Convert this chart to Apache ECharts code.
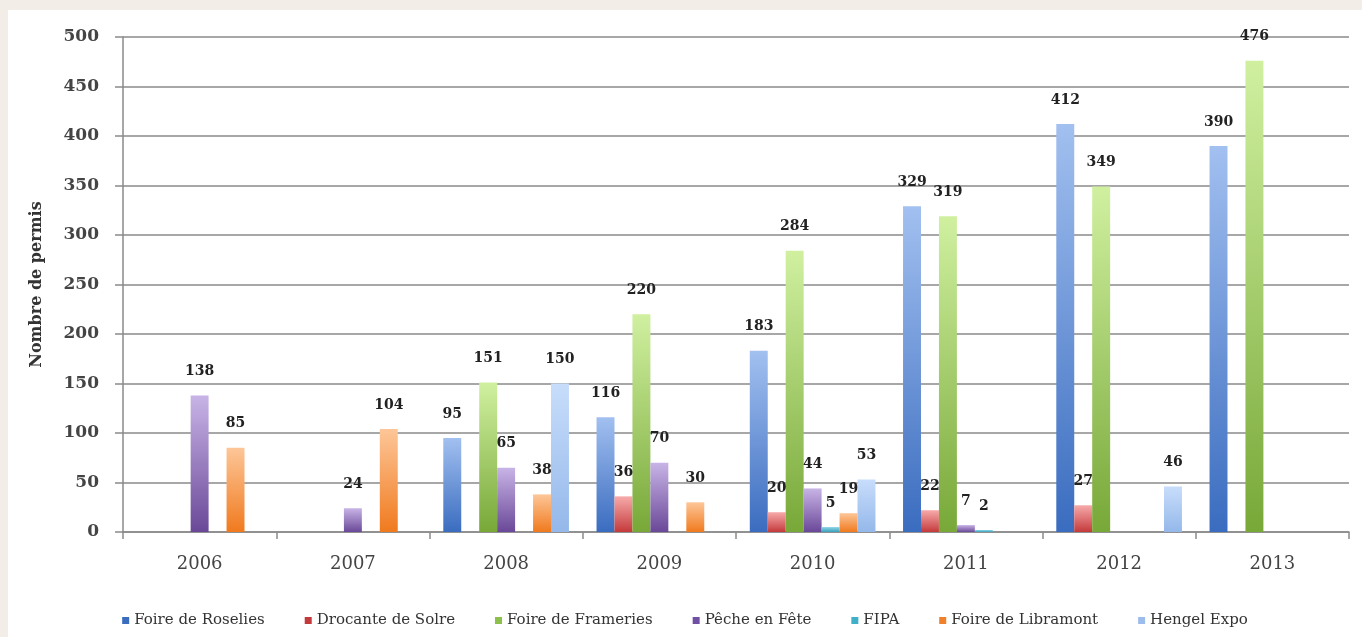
<!DOCTYPE html>
<html>
<head>
<meta charset="utf-8">
<script src="https://cdn.jsdelivr.net/npm/echarts@6/dist/echarts.min.js"></script>
<style>
html,body{margin:0;padding:0;width:1362px;height:637px;background:#f2eee7;overflow:hidden;}
#card{position:absolute;left:8px;top:10px;width:1354px;height:627px;background:#ffffff;}
#chart{width:1354px;height:627px;}
</style>
</head>
<body>
<div id="card"><div id="chart"></div></div>
<script>
const categories = ['2006','2007','2008','2009','2010','2011','2012','2013'];
const seriesNames = ['Foire de Roselies','Drocante de Solre','Foire de Frameries','Pêche en Fête','FIPA','Foire de Libramont','Hengel Expo'];
const roselies   = [null, null, 95, 116, 183, 329, 412, 390];
const drocante   = [null, null, null, 36, 20, 22, 27, null];
const frameries  = [null, null, 151, 220, 284, 319, 349, 476];
const peche      = [138, 24, 65, 70, 44, 7, null, null];
const fipa       = [null, null, null, null, 5, 2, null, null];
const libramont  = [85, 104, 38, 30, 19, null, null, null];
const hengel     = [null, null, 150, null, 53, null, 46, null];
const yTicks = [0, 50, 100, 150, 200, 250, 300, 350, 400, 450, 500];

const seriesData = [roselies, drocante, frameries, peche, fipa, libramont, hengel];
const gradients = [
  ['#a2c0f0', '#3a6cbf'],
  ['#f7aaaa', '#c43a3c'],
  ['#d0f0a0', '#78a838'],
  ['#c8b4e6', '#6a4898'],
  ['#8fd6e8', '#3aa0ba'],
  ['#fdc698', '#f07a1e'],
  ['#c8ddfb', '#94b8ea']
];
const legendColors = ['#3a6cbf','#c43a3c','#8cc04a','#7050a4','#3fb0c8','#f0802a','#9cbcec'];

const chart = echarts.init(document.getElementById('chart'), null, {renderer: 'canvas'});
const serif = '"DejaVu Serif", "Liberation Serif", serif';

chart.setOption({
  animation: false,
  backgroundColor: '#ffffff',
  grid: {left: 115, right: 13, top: 27, bottom: 105, containLabel: false},
  legend: {
    bottom: 4,
    left: 'center',
    itemWidth: 7,
    itemHeight: 7,
    itemGap: 40,
    icon: 'rect',
    textStyle: {fontFamily: serif, fontSize: 15, color: '#333'},
    data: seriesNames.map((n, i) => ({name: n, itemStyle: {color: legendColors[i]}}))
  },
  xAxis: {
    type: 'category',
    data: categories,
    axisLine: {lineStyle: {color: '#8a8a8a', width: 1.5}},
    axisTick: {show: true, length: 7, lineStyle: {color: '#8a8a8a', width: 1.5}},
    axisLabel: {fontFamily: serif, fontSize: 18, color: '#444', margin: 23}
  },
  yAxis: {
    type: 'value',
    min: 0, max: 500, interval: 50,
    name: 'Nombre de permis',
    nameLocation: 'middle',
    nameGap: 78,
    nameTextStyle: {fontFamily: serif, fontSize: 16, fontWeight: 'bold', color: '#333'},
    axisLine: {show: true, lineStyle: {color: '#8a8a8a', width: 1.5}},
    axisTick: {show: true, length: 8, inside: false, lineStyle: {color: '#8a8a8a', width: 1.5}},
    splitLine: {lineStyle: {color: '#8a8a8a', width: 1.5}},
    axisLabel: {fontFamily: serif, fontSize: 17, fontWeight: 'bold', color: '#444', margin: 24,
      formatter: v => yTicks.includes(v) ? String(v) : ''}
  },
  series: seriesData.map((d, i) => ({
    name: seriesNames[i],
    type: 'bar',
    data: d,
    barGap: '0%',
    barCategoryGap: '18%',
    itemStyle: {
      color: new echarts.graphic.LinearGradient(0, 0, 0, 1, [
        {offset: 0, color: gradients[i][0]},
        {offset: 1, color: gradients[i][1]}
      ])
    },
    label: {
      show: true,
      position: 'top',
      distance: 17,
      fontFamily: serif,
      fontSize: 14,
      fontWeight: 'bold',
      color: '#222'
    }
  }))
});
</script>
</body>
</html>
